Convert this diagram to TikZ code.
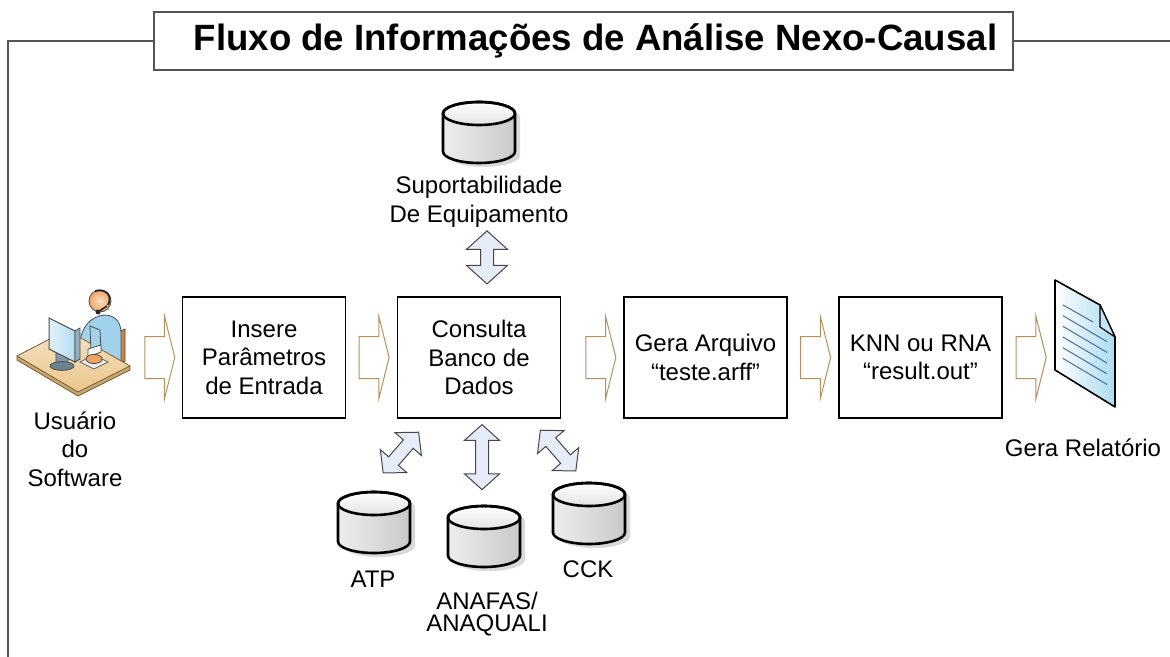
\documentclass[tikz,border=0pt]{standalone}
\usepackage{fontspec}
\setmainfont{Liberation Sans}
\usetikzlibrary{shapes.arrows,calc}

\definecolor{framegray}{RGB}{85,85,85}
\definecolor{flowtan}{RGB}{180,145,95}
\definecolor{linkblue}{RGB}{230,236,248}
\definecolor{linkgray}{RGB}{70,70,70}
\definecolor{deskwood}{RGB}{235,200,140}
\definecolor{deskedge}{RGB}{120,90,50}
\definecolor{skinorange}{RGB}{240,165,100}
\definecolor{shirtblue}{RGB}{160,210,235}
\definecolor{chairbrown}{RGB}{210,130,60}
\definecolor{screenblue}{RGB}{180,220,242}
\definecolor{docblue}{RGB}{170,220,240}
\definecolor{docline}{RGB}{70,110,160}

% database drum drawn over a named slot node
\newcommand{\drum}[1]{%
	\begin{scope}[shift={(#1.center)}, x=1pt, y=1pt]
		\fill[gray!30] (-15.5,7.5) -- (-15.5,-11.5) arc[start angle=180, end angle=360, x radius=18, y radius=5.75]
			-- (20.5,7.5) arc[start angle=0, end angle=180, x radius=18, y radius=5.75] -- cycle;
		\shade[left color=gray!14, right color=gray!42] (-18,9.5) -- (-18,-9.5) arc[start angle=180, end angle=360, x radius=18, y radius=5.75]
			-- (18,9.5) arc[start angle=0, end angle=180, x radius=18, y radius=5.75] -- cycle;
		\shade[top color=white, bottom color=gray!22] (0,9.5) ellipse [x radius=18, y radius=5.75];
		\draw[line width=1.3pt, line join=round] (-18,9.5) -- (-18,-9.5) arc[start angle=180, end angle=360, x radius=18, y radius=5.75]
			-- (18,9.5) arc[start angle=0, end angle=180, x radius=18, y radius=5.75] -- cycle;
		\draw[line width=1.3pt] (0,9.5) ellipse [x radius=18, y radius=5.75];
	\end{scope}}

\tikzset{
	frameline/.style={draw=framegray, line width=0.8pt},
	titlebox/.style={shape=rectangle, draw=framegray, line width=0.8pt, fill=white,
		minimum width=429.5pt, minimum height=29pt, font=\fontsize{18.3}{22}\selectfont\bfseries},
	stepbox/.style={shape=rectangle, draw=black, line width=0.6pt, minimum width=81.5pt,
		minimum height=60.5pt, align=center, font=\fontsize{12}{14.25}\selectfont},
	dbtext/.style={align=center, inner sep=0pt, font=\fontsize{12}{14.25}\selectfont},
	dbslot/.style={shape=rectangle, inner sep=0pt, minimum width=36pt, minimum height=30.5pt},
	flowarrow/.style={shape=single arrow, draw=flowtan, fill=white, line width=0.5pt,
		inner xsep=0pt, inner ysep=10.25pt, minimum height=15pt,
		single arrow head extend=10.25pt, single arrow tip angle=152},
	linkarrow/.style={shape=double arrow, draw=linkgray, fill=linkblue, line width=0.5pt,
		inner xsep=0pt, inner ysep=3pt, double arrow head extend=7pt,
		double arrow tip angle=96}
}

\begin{document}
\begin{tikzpicture}[x=0.5pt, y=-0.5pt]
	\useasboundingbox (0,0) rectangle (1170,657);

	%Frame and title:
	\node[titlebox] (title) at (583.5,41) {\hspace*{12pt}Fluxo de Informações de Análise Nexo-Causal};
	\draw[frameline] (8,657) |- (title.west);
	\draw[frameline] (title.east) -- (1170,41);

	%Process boxes:
	\path
		(264,357.5) node[stepbox] (ins) {Insere\\Parâmetros\\de Entrada}
		(479,357.5) node[stepbox] (cons) {Consulta\\Banco de\\Dados}
		(705.5,357.5) node[stepbox] (gera) {Gera Arquivo\\“teste.arff”}
		(920.5,357.5) node[stepbox] (knn) {KNN ou RNA\\“result.out”};

	%Databases:
	\path
		(479,132.5) node[dbslot] (sup) {}
		(374,522.5) node[dbslot] (atp) {}
		(484,536.5) node[dbslot] (anafas) {}
		(589,513.5) node[dbslot] (cck) {};
	\drum{sup}
	\drum{atp}
	\drum{anafas}
	\drum{cck}
	\path
		(479,202) node[dbtext] (suplbl) {Suportabilidade\\De Equipamento}
		(373,579) node[dbtext] (atplbl) {ATP}
		(487,614) node[dbtext, font=\fontsize{12}{11}\selectfont] (anafaslbl) {ANAFAS/\\ANAQUALI}
		(588,569) node[dbtext] (ccklbl) {CCK};

	%User at the desk:
	\node[inner sep=0pt, minimum width=57pt, minimum height=51.5pt] (user) at (75,343.5) {};
	\filldraw[fill=chairbrown, draw=black!70, line width=0.4pt] (114,334) -- (125,329) -- (125,361) -- (114,366) -- cycle;
	\filldraw[fill=shirtblue, draw=black!70, line width=0.4pt] (80,345) .. controls (80,327) and (92,316) .. (104,315)
		.. controls (115,315) and (121,322) .. (121,333) -- (121,362) -- (84,362) -- cycle;
	\shade[inner color=skinorange!35, outer color=skinorange] (100,301) circle (5.5pt);
	\draw[black!70, line width=0.4pt] (100,301) circle (5.5pt);
	\draw[black!85, line width=0.9pt] (95,291) .. controls (106,288) and (113,296) .. (108,305);
	\draw[black!85, line width=0.8pt] (107,306) -- (98,312);
	\fill[black!85] (98,312) circle (1.2pt);
	\shade[top color=deskwood!55, bottom color=deskwood] (17,356) -- (67,330) -- (130,366) -- (78,392) -- cycle;
	\filldraw[fill=deskwood!70!deskedge, draw=deskedge, line width=0.4pt] (17,356) -- (78,392) -- (130,366) -- (130,370) -- (78,396) -- (17,360) -- cycle;
	\draw[deskedge, line width=0.4pt] (17,356) -- (67,330) -- (130,366);
	\filldraw[fill=screenblue!70!black, draw=black!70, line width=0.4pt] (56,352) -- (68,358) -- (68,369) -- (56,363) -- cycle;
	\filldraw[fill=screenblue!60!black, draw=black!70, line width=0.4pt] (62,366) ellipse (6pt and 2.2pt);
	\shade[left color=screenblue!40, right color=screenblue] (49,318) -- (75,331) -- (75,362) -- (49,349) -- cycle;
	\draw[black!70, line width=0.5pt] (49,318) -- (75,331) -- (75,362) -- (49,349) -- cycle;
	\filldraw[fill=screenblue!80!black, draw=black!70, line width=0.4pt] (75,331) -- (80,328) -- (80,359) -- (75,362) -- cycle;
	\filldraw[fill=gray!15, draw=black!60, line width=0.4pt] (80,362) -- (94,355) -- (108,362) -- (94,369) -- cycle;
	\filldraw[fill=shirtblue, draw=black!70, line width=0.4pt] (90,326) -- (100,330) -- (101,350) -- (91,354) -- cycle;
	\filldraw[fill=white, draw=black!70, line width=0.4pt] (88,349) -- (101,345) -- (101,352) -- (88,357) -- cycle;
	\filldraw[fill=skinorange, draw=black!70, line width=0.4pt] (94,359) ellipse (4pt and 2.3pt);
	\node[dbtext] (userlbl) at (75,449) {Usuário\\do\\Software};

	%Report page:
	\node[inner sep=0pt, minimum width=30pt, minimum height=63.5pt] (report) at (1085,343.5) {};
	\shade[left color=white, right color=docblue] (1055,280) -- (1100,305) -- (1115,337) -- (1115,407) -- (1055,370) -- cycle;
	\foreach \i in {1,...,5}
		\draw[docline, line width=0.5pt] (1063,{305+10.7*\i}) -- ++(44,26);
	\draw[docline, line width=0.5pt] (1063,305) -- (1093,322);
	\draw[black, line width=0.8pt, line join=round] (1055,280) -- (1100,305) -- (1115,337) -- (1115,407) -- (1055,370) -- cycle;
	\filldraw[fill=docblue!70!white, draw=black, line width=0.6pt, line join=round] (1100,305) -- (1100,327) -- (1115,337) -- cycle;
	\node[dbtext] (reportlbl) at (1083,448) {Gera Relatório};

	%Flow arrows:
	\path
		($(user.east|-ins.west)!0.5!(ins.west)$) node[flowarrow] (f1) {}
		($(ins.east)!0.5!(cons.west)$) node[flowarrow] (f2) {}
		($(cons.east)!0.5!(gera.west)$) node[flowarrow, xshift=3pt] (f3) {}
		($(gera.east)!0.5!(knn.west)$) node[flowarrow] (f4) {}
		($(knn.east)!0.5!(report.west|-knn.east)$) node[flowarrow] (f5) {};

	%Database links:
	\path
		($(cons.north)+(8,-39)$) node[linkarrow, minimum height=26.5pt, rotate=90] (l1) {}
		($(cons.south)+(3,38.5)$) node[linkarrow, minimum height=32.5pt, double arrow head extend=5.5pt, rotate=90] (l2) {}
		($(cons.south west)+(4,34)$) node[linkarrow, minimum height=27pt, double arrow head extend=5.5pt, rotate=49] (l3) {}
		($(cons.south east)+(-3,32)$) node[linkarrow, minimum height=27pt, double arrow head extend=5.5pt, rotate=-49] (l4) {};
\end{tikzpicture}
\end{document}
